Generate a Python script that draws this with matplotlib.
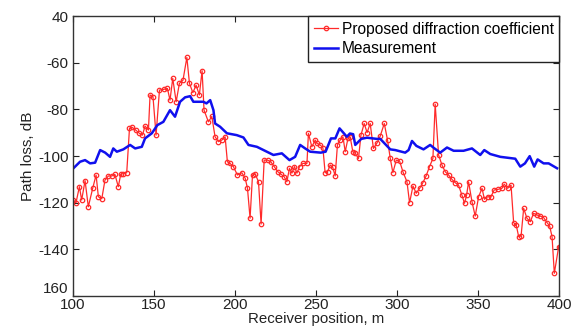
import matplotlib
matplotlib.use("Agg")
import matplotlib.pyplot as plt

plt.rcParams['font.family'] = ['Liberation Sans', 'DejaVu Sans']

# measured path loss (blue)
meas_x = [100.4, 104.5, 107.6, 110.7, 113.8, 116.9, 120.0, 123.0, 125.0, 127.2,
          131.2, 135.4, 138.5, 142.6, 144.6, 148.8, 152.2, 155.9, 160.0, 163.1,
          166.2, 169.3, 172.4, 174.4, 178.6, 180.6, 182.5, 184.8, 186.8, 187.8,
          190.9, 193.0, 195.1, 201.2, 205.3, 208.4, 213.6, 217.7, 223.8, 229.0,
          233.7, 237.2, 240.3, 243.4, 246.5, 253.0, 256.0, 259.3, 262.0, 264.6,
          267.0, 269.1, 271.0, 273.0, 274.3, 278.0, 281.5, 287.5, 289.7, 295.9,
          299.0, 305.1, 307.2, 309.3, 312.0, 316.4, 320.5, 323.0, 326.7, 330.9,
          335.0, 341.1, 346.3, 351.4, 353.9, 357.6, 363.8, 373.0, 376.1, 379.0,
          381.9, 384.7, 386.8, 390.5, 393.6, 398.8]
meas_y = [-105.2, -102.4, -101.7, -103.1, -102.8, -97.4, -98.5, -100.3, -96.7, -98.1,
          -97.1, -95.2, -96.7, -96.0, -92.4, -90.2, -86.7, -85.3, -80.3, -83.1,
          -76.7, -74.8, -74.3, -76.7, -76.7, -76.7, -77.4, -76.0, -80.3, -86.0,
          -87.4, -88.8, -90.2, -91.0, -92.0, -95.2, -96.0, -97.4, -99.5, -98.8,
          -101.7, -100.3, -95.2, -96.7, -98.1, -98.5, -98.1, -92.4, -92.4, -88.1,
          -90.0, -91.7, -90.3, -90.6, -95.2, -92.6, -92.1, -92.6, -92.6, -97.1,
          -97.4, -98.5, -97.4, -93.5, -95.6, -97.1, -95.2, -96.6, -98.5, -96.3,
          -97.7, -97.7, -96.7, -99.5, -97.4, -99.1, -100.3, -101.1, -104.5, -103.1,
          -100.0, -104.5, -101.4, -103.1, -103.1, -105.2]

# proposed diffraction coefficient (red)
prop_x = [100.4, 102.0, 104.1, 105.5, 107.6, 109.6, 112.3, 114.4, 115.8, 117.9,
          119.9, 122.0, 124.1, 126.0, 128.1, 129.6, 131.3, 133.3, 135.0, 136.6,
          138.8, 141.1, 143.0, 144.6, 146.7, 147.7, 149.5, 151.4, 153.5, 156.0,
          158.4, 160.0, 161.7, 163.8, 165.8, 168.0, 170.4, 172.0, 174.1, 176.1,
          178.1, 179.8, 181.0, 183.7, 185.8, 187.8, 189.9, 192.0, 194.0, 195.4,
          197.0, 199.1, 201.6, 204.3, 206.4, 207.8, 209.4, 210.9, 212.6, 214.6,
          216.2, 218.1, 220.2, 222.2, 224.3, 226.4, 228.4, 230.4, 232.1, 233.7,
          235.2, 236.8, 238.3, 239.9, 242.0, 244.5, 245.4, 247.5, 249.6, 250.6,
          252.6, 254.3, 255.7, 257.2, 258.8, 260.4, 261.9, 263.3, 265.0, 266.7,
          268.1, 269.8, 271.2, 272.8, 274.3, 276.3, 277.8, 279.8, 281.6, 283.5,
          285.5, 287.6, 289.7, 292.2, 294.2, 295.9, 297.5, 299.6, 301.6, 303.7,
          306.2, 307.8, 309.9, 311.9, 314.0, 316.0, 318.0, 320.1, 322.2, 323.6,
          325.7, 327.8, 329.8, 331.9, 334.0, 336.0, 338.0, 340.1, 341.7, 343.0,
          344.2, 346.3, 348.3, 350.4, 352.5, 354.0, 356.0, 358.0, 360.0, 362.6,
          364.8, 366.2, 368.3, 370.4, 372.0, 373.6, 375.1, 376.6, 378.2, 380.2,
          382.3, 384.3, 386.4, 388.4, 390.5, 392.6, 394.2, 395.7, 397.1, 399.8]
prop_y = [-118.8, -120.0, -113.1, -118.8, -110.5, -121.7, -113.8, -108.1, -117.4, -118.3,
          -110.2, -108.5, -108.5, -107.8, -113.1, -107.8, -107.5, -107.1, -88.1, -87.6,
          -88.8, -90.2, -91.0, -87.1, -88.8, -73.8, -74.5, -91.0, -71.7, -71.4,
          -71.0, -76.0, -66.7, -76.7, -68.8, -67.5, -57.7, -68.8, -72.8, -69.6,
          -73.8, -63.4, -80.3, -85.3, -83.0, -91.7, -93.8, -93.1, -91.7, -102.4,
          -103.1, -104.5, -108.1, -107.1, -109.5, -113.8, -126.6, -108.1, -107.7, -111.0,
          -129.1, -101.7, -101.7, -102.4, -104.5, -106.6, -107.7, -108.8, -111.0, -105.2,
          -107.3, -104.5, -107.3, -104.5, -103.1, -103.1, -90.2, -96.0, -93.1, -94.5,
          -95.2, -96.3, -107.1, -106.7, -103.8, -104.8, -108.5, -95.2, -93.1, -91.7,
          -98.1, -92.4, -92.0, -98.1, -98.8, -101.0, -91.0, -86.0, -89.9, -86.0,
          -96.7, -94.5, -91.4, -86.0, -93.1, -101.0, -107.1, -101.7, -102.0, -106.7,
          -111.0, -120.0, -112.8, -115.9, -113.8, -111.4, -108.5, -104.5, -101.0, -77.7,
          -99.5, -103.8, -106.7, -108.1, -110.0, -111.4, -112.4, -116.7, -120.2, -116.7,
          -111.0, -119.5, -125.7, -117.4, -113.8, -118.5, -117.4, -117.4, -114.5, -114.2,
          -113.8, -112.0, -113.8, -112.4, -128.5, -129.5, -134.5, -134.2, -122.4, -126.6,
          -128.1, -124.5, -125.2, -125.7, -126.3, -128.5, -129.9, -134.5, -150.2, -138.8]

xticks = [100, 150, 200, 250, 300, 350, 400]
yticks = [-160, -140, -120, -100, -80, -60, -40]
ytick_labels = ['160', '-140', '-120', '-100', '-80', '-60', '40']

fig = plt.figure(figsize=(5.82, 3.32), dpi=100)
ax = fig.add_axes([0.125, 0.108, 0.8355, 0.8434])

ax.plot(prop_x, prop_y, '-o', color='#ff2a2a', lw=0.9, ms=3.2,
        mfc='none', mew=0.9, label='Proposed diffraction coefficient')
ax.plot(meas_x, meas_y, '-', color='#1010ee', lw=1.8, label='Measurement')

ax.set_xlim(100, 400)
ax.set_ylim(-160, -40)
ax.set_xticks(xticks)
ax.set_yticks(yticks)
ax.set_yticklabels(ytick_labels)
ax.tick_params(direction='in', top=True, right=True, labelsize=11, length=4,
               colors='#222222')
ax.tick_params(axis='x', pad=1)
ax.tick_params(axis='y', pad=3)
# bottom y label sits just above the corner, clear of the "100"
ax.get_yticklabels()[0].set_verticalalignment('bottom')
for s in ax.spines.values():
    s.set_color('#333333')
    s.set_linewidth(1.0)

ax.set_xlabel('Receiver position, m', fontsize=10.8, labelpad=0, color='#222222')
ax.set_ylabel('Path loss, dB', fontsize=11, labelpad=2, color='#222222')

leg = ax.legend(loc='upper right', bbox_to_anchor=(1.0, 1.0), borderaxespad=0,
                fontsize=11.2, frameon=True, fancybox=False, framealpha=1,
                edgecolor='#222222', handlelength=1.6, handletextpad=0.2,
                borderpad=0.35, labelspacing=0.3)
leg.get_frame().set_linewidth(1.0)

fig.savefig('out.png', dpi=100)
